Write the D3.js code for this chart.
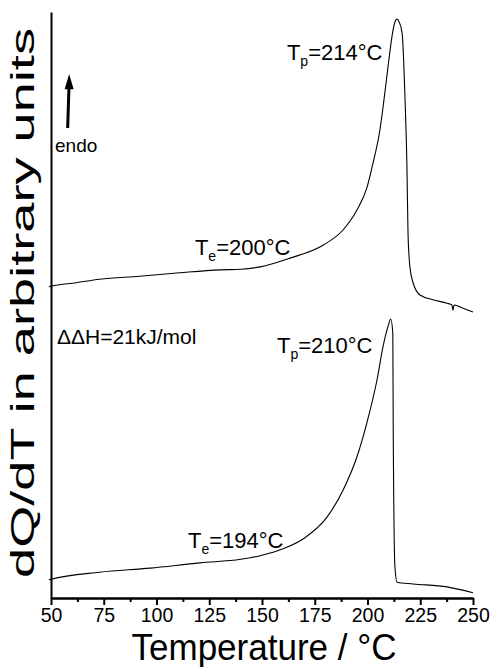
<!DOCTYPE html>
<html lang="en">
<head>
    <meta charset="UTF-8">
    <title>DSC curves</title>
    <script src="https://d3js.org/d3.v7.min.js"></script>
    <style>
        body { margin: 0; background: #fff; }
        svg { font-family: "Liberation Sans", Arial, sans-serif; }
        .axis path, .axis line { stroke: #000; stroke-width: 2px; }
        .axis text { font-size: 19.5px; fill: #000; }
        .curve { fill: none; stroke: #000; stroke-width: 1.1px; }
    </style>
</head>
<body>
<div id="chart"></div>
<script>
    // Temperature (°C) / signal (arbitrary units)
    const upperT = [49, 50, 62, 73, 92, 111, 130, 140, 149.1, 163.3, 178.9, 188.4, 195, 199.8, 202.6, 205.9, 207.8, 209.7, 212.1, 213, 214, 215, 216.4, 217.8, 218.7, 219.2, 220.1, 221.6, 224.9, 231, 237.7, 240, 240.5, 241, 245, 250];
    const upperQ = [53.1, 53.2, 53.8, 54.4, 54.9, 55.5, 56.0, 56.1, 56.5, 58.0, 60.2, 62.8, 66.2, 70.1, 74.2, 79.9, 85.0, 90.6, 96.9, 98.3, 98.8, 98.3, 96.4, 85.0, 73.5, 62.3, 56.5, 53.8, 51.7, 50.9, 50.3, 50.0, 49.1, 50.0, 49.5, 48.8];

    const lowerT = [49, 50, 73, 97, 120.6, 140, 150, 160, 170, 180.8, 188.4, 195, 199.7, 204.5, 207.3, 209.7, 211, 212, 212.2, 213, 214, 221.6, 237.7, 250];
    const lowerQ = [3.1, 3.2, 4.4, 5.1, 6.0, 6.6, 7.3, 8.4, 10.2, 13.8, 18.4, 24.1, 29.9, 37.2, 42.8, 46.3, 47.6, 45.2, 28.2, 5.3, 2.7, 2.4, 1.9, 0.9];

    const majorTicks = [50, 75, 100, 125, 150, 175, 200, 225, 250];
    const minorTicks = [62.5, 87.5, 112.5, 137.5, 162.5, 187.5, 212.5, 237.5];

    // annotations: [T, Q, main, subscript, rest]
    const labels = [
        [161.8, 91.8, "T", "p", "=214°C"],
        [118.2, 58.5, "T", "e", "=200°C"],
        [157.1, 41.8, "T", "p", "=210°C"],
        [114.9, 8.5, "T", "e", "=194°C"]
    ];

    const width = 492, height = 667;
    const margin = {top: 12, right: 19, bottom: 69, left: 51};

    const svg = d3.select("#chart").append("svg")
        .attr("width", width)
        .attr("height", height);

    const x = d3.scaleLinear().domain([50, 250]).range([margin.left, width - margin.right]);
    const y = d3.scaleLinear().domain([0, 100]).range([height - margin.bottom, margin.top]);

    const line = d3.line()
        .x(d => x(d[0]))
        .y(d => y(d[1]))
        .curve(d3.curveMonotoneX);

    const upper = upperT.map((t, i) => [t, upperQ[i]]);
    const lower = lowerT.map((t, i) => [t, lowerQ[i]]);

    svg.append("path").datum(upper).attr("class", "curve").attr("d", line);
    svg.append("path").datum(lower).attr("class", "curve").attr("d", line);

    // X axis with major and minor ticks
    svg.append("g")
        .attr("class", "axis")
        .attr("transform", "translate(0," + y(0) + ")")
        .call(d3.axisBottom(x).tickValues(minorTicks).tickSize(4).tickSizeOuter(0).tickFormat(""));
    const xAxis = svg.append("g")
        .attr("class", "axis")
        .attr("transform", "translate(0," + y(0) + ")")
        .call(d3.axisBottom(x).tickValues(majorTicks).tickSize(7).tickSizeOuter(0).tickPadding(3));
    xAxis.selectAll("text").attr("font-family", null);

    // Y axis: line only
    svg.append("g")
        .attr("class", "axis")
        .attr("transform", "translate(" + x(50) + ",0)")
        .call(d3.axisLeft(y).tickValues([]).tickSizeOuter(0));

    // Axis titles
    svg.append("text")
        .attr("x", (x(50) + x(250)) / 2 + 2)
        .attr("y", 660)
        .attr("text-anchor", "middle")
        .attr("font-size", 36)
        .attr("textLength", 265)
        .attr("lengthAdjust", "spacingAndGlyphs")
        .text("Temperature / °C");

    svg.append("text")
        .attr("transform", "translate(34," + 303 + ") rotate(-90)")
        .attr("text-anchor", "middle")
        .attr("font-size", 34)
        .attr("textLength", 550)
        .attr("lengthAdjust", "spacingAndGlyphs")
        .text("dQ/dT in arbitrary units");

    // Peak / onset labels
    labels.forEach(l => {
        const t = svg.append("text")
            .attr("x", x(l[0]))
            .attr("y", y(l[1]))
            .attr("font-size", 22);
        t.append("tspan").text(l[2]);
        t.append("tspan").attr("font-size", 14).attr("dy", 6).text(l[3]);
        t.append("tspan").attr("dy", -6).text(l[4]);
    });

    svg.append("text")
        .attr("x", x(52.8))
        .attr("y", y(43.3))
        .attr("font-size", 21)
        .text("ΔΔH=21kJ/mol");

    // endo arrow
    svg.append("text")
        .attr("x", x(51.9))
        .attr("y", y(76.1))
        .attr("font-size", 19)
        .text("endo");

    svg.append("line")
        .attr("x1", x(57.9)).attr("y1", y(80.2))
        .attr("x2", x(58.5)).attr("y2", y(87))
        .attr("stroke", "#000").attr("stroke-width", 3);
    svg.append("path")
        .attr("d", "M" + x(58.6) + "," + y(89.4) +
            "L" + (x(58.6) + 4.5) + "," + y(86.8) +
            "L" + (x(58.6) - 4.5) + "," + y(86.8) + "Z")
        .attr("fill", "#000");
</script>
</body>
</html>
